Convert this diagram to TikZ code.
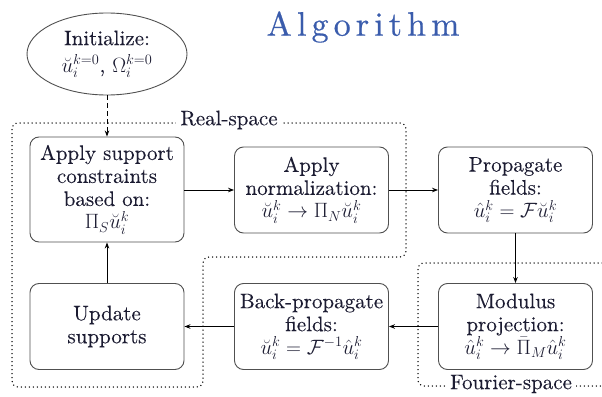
\documentclass[tikz,border=0pt]{standalone}
\usepackage{fontspec}
\usepackage{amsmath}
\usetikzlibrary{shapes.geometric,arrows.meta}
\newfontfamily\boxfam{lmroman10-regular.otf}[FakeBold=0.12]
\newfontfamily\titlefam{lmroman10-regular.otf}[LetterSpace=15,FakeBold=0.5]
\definecolor{ink}{RGB}{28,28,50}
\definecolor{titleblue}{RGB}{58,92,172}
\definecolor{frame}{RGB}{80,80,80}
\newcommand{\boxfont}{\boxfam\fontsize{21}{23}\selectfont}
\tikzset{
  stepbox/.style={draw=frame, line width=0.9pt, rounded corners=9pt,
    minimum width=154pt, minimum height=86pt, align=center,
    text=ink, font=\boxfont},
  flow/.style={line width=0.9pt, -{Stealth[length=6pt,width=4.5pt]}},
  region/.style={line width=1.5pt, line cap=round, dash pattern=on 0pt off 4pt,
    rounded corners=6pt},
  regionlabel/.style={fill=white, inner sep=4pt, text=ink, font=\boxfont}
}
\begin{document}
\begin{tikzpicture}[x=1pt,y=-1pt]
\useasboundingbox (0,0) rectangle (602,396);

% title
\node[text=titleblue, inner sep=0pt, font=\titlefam\fontsize{34}{40}\selectfont]
  (title) at (363,27) {Algorithm};

% dotted regions
\draw[region] (406,123) -- (12,123) -- (12,387) -- (203,387) -- (203,257)
  -- (406,257) -- cycle;
\draw[region] (602,263) -- (418,263) -- (418,386) -- (602,386);
\node[regionlabel] (real) at (229,120) {Real-space};
\node[regionlabel] (fourier) at (511,384) {Fourier-space};

% start
\node[ellipse, draw=frame, line width=0.9pt, minimum width=160pt,
  minimum height=82pt, align=center, text=ink,
  font=\boxfam\fontsize{21}{27}\selectfont] (init) at (107,54)
  {Initialize:\\$\breve{u}_i^{k=0}$, $\Omega_i^{k=0}$};

% steps
\node[stepbox, minimum height=105pt] (support) at (107,189.5)
  {Apply support\\constraints\\based on:\\$\Pi_S\breve{u}_i^k$};
\node[stepbox] (norm) at (311.5,190)
  {Apply\\normalization:\\$\breve{u}_i^k\rightarrow\Pi_N\breve{u}_i^k$};
\node[stepbox] (prop) at (515.5,190)
  {Propagate\\fields:\\$\hat{u}_i^k=\mathcal{F}\breve{u}_i^k$};
\node[stepbox] (mod) at (515.5,326.5)
  {Modulus\\projection:\\$\hat{u}_i^k\rightarrow\bar{\Pi}_M\hat{u}_i^k$};
\node[stepbox] (back) at (311.5,326.5)
  {Back-propagate\\fields:\\$\breve{u}_i^k=\mathcal{F}^{-1}\hat{u}_i^k$};
\node[stepbox] (update) at (107,326.5) {Update\\supports};

% connectors
\draw[flow, dashed, dash pattern=on 5pt off 3pt] (init) -- (support);
\draw[flow] (support.east |- norm.west) -- (norm.west);
\draw[flow] (norm) -- (prop);
\draw[flow] (prop) -- (mod);
\draw[flow] (mod) -- (back);
\draw[flow] (back) -- (update);
\draw[flow] (update) -- (support);
\end{tikzpicture}
\end{document}
